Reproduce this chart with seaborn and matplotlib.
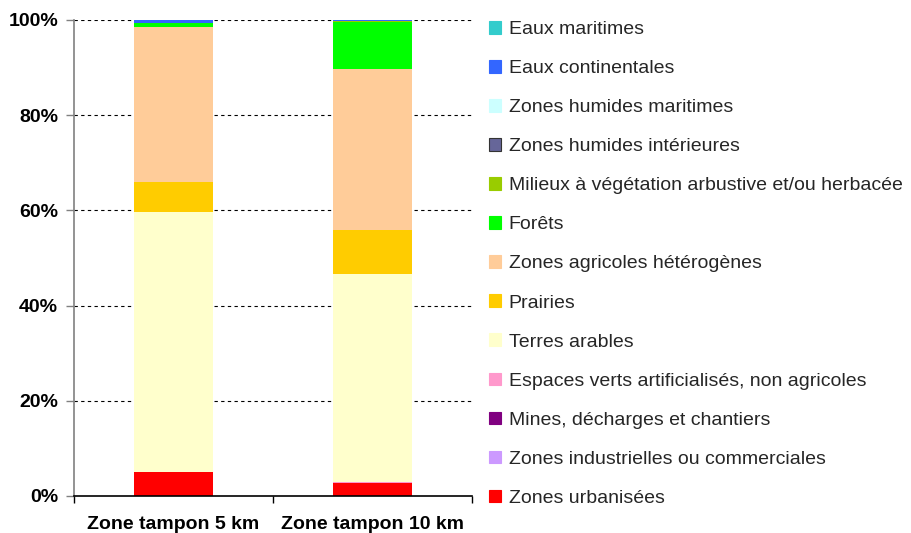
import numpy as np
import pandas as pd
import matplotlib
matplotlib.use("Agg")
import matplotlib.pyplot as plt
import seaborn as sns
from matplotlib.patches import Patch
from matplotlib.ticker import FuncFormatter, FixedLocator

# ---- data (stack order: bottom -> top) ----
zones = ["Zone tampon 5 km", "Zone tampon 10 km"]
classes = [
    "Zones urbanisées",
    "Zones industrielles ou commerciales",
    "Mines, décharges et chantiers",
    "Espaces verts artificialisés, non agricoles",
    "Terres arables",
    "Prairies",
    "Zones agricoles hétérogènes",
    "Forêts",
    "Milieux à végétation arbustive et/ou herbacée",
    "Zones humides intérieures",
    "Zones humides maritimes",
    "Eaux continentales",
    "Eaux maritimes",
]
colors = [
    "#FF0000", "#CC99FF", "#800080", "#FF99CC", "#FFFFCC", "#FFCC00",
    "#FFCC99", "#00FF00", "#99CC00", "#666699", "#CCFFFF", "#3366FF", "#33CCCC",
]
zone5_values = [5.0, 0.0, 0.0, 0.0, 54.7, 6.2, 32.6, 0.8, 0.0, 0.0, 0.0, 0.7, 0.0]
zone10_values = [2.8, 0.0, 0.0, 0.2, 43.6, 9.3, 33.8, 9.8, 0.3, 0.0, 0.0, 0.2, 0.0]
y_ticks = [0, 20, 40, 60, 80, 100]

sns.set_theme(style="white")
plt.rcParams["font.family"] = ["Liberation Sans", "DejaVu Sans"]

fig = plt.figure(figsize=(9.11, 5.33), dpi=100)
ax = fig.add_axes([74 / 911, 1 - 496 / 533, 398 / 911, 476 / 533])

bottoms = np.zeros(len(zones))
for cls, col, v5, v10 in zip(classes, colors, zone5_values, zone10_values):
    vals = np.array([v5, v10])
    df = pd.DataFrame({"zone": zones, "value": vals})
    sns.barplot(data=df, x="zone", y="value", color=col, saturation=1,
                width=0.4, errorbar=None, bottom=bottoms, linewidth=0, ax=ax)
    bottoms = bottoms + vals

ax.set_xlim(-0.5, 1.5)
ax.set_ylim(0, 100)
ax.set_xlabel("")
ax.set_ylabel("")

ax.yaxis.set_major_locator(FixedLocator(y_ticks))
ax.yaxis.set_major_formatter(FuncFormatter(lambda v, p: f"{int(v)}%"))
for yv in y_ticks[1:]:
    ax.axhline(yv, color="black", lw=0.8, ls=(0, (3, 3)), zorder=0.5)

for s in ["top", "right"]:
    ax.spines[s].set_visible(False)
ax.spines["left"].set_color("#808080")
ax.spines["left"].set_linewidth(1.2)
ax.spines["bottom"].set_color("black")
ax.spines["bottom"].set_linewidth(1.2)

ax.tick_params(axis="y", which="major", length=6, width=1, color="#808080",
               direction="out", pad=5.5, labelsize=14, left=True)
ax.tick_params(axis="x", which="major", length=0, pad=14.5, labelsize=14)
ax.set_xticks([-0.5, 0.5, 1.5], minor=True)
ax.tick_params(axis="x", which="minor", length=5, width=1, color="black",
               direction="out", bottom=True)
for lab in ax.get_xticklabels() + ax.get_yticklabels():
    lab.set_fontweight("bold")
    lab.set_color("black")

handles = []
for cls, col in zip(classes[::-1], colors[::-1]):
    ec = "#333333" if col == "#666699" else col
    handles.append(Patch(facecolor=col, edgecolor=ec, linewidth=0.8, label=cls))
fig.legend(handles=handles, loc="upper left", bbox_to_anchor=(489 / 911, 1 - 21 / 533),
           frameon=False, fontsize=14, handlelength=0.62, handleheight=0.62,
           handletextpad=0.4, labelspacing=1.127, borderpad=0, borderaxespad=0)

fig.savefig("out.png", dpi=100)
